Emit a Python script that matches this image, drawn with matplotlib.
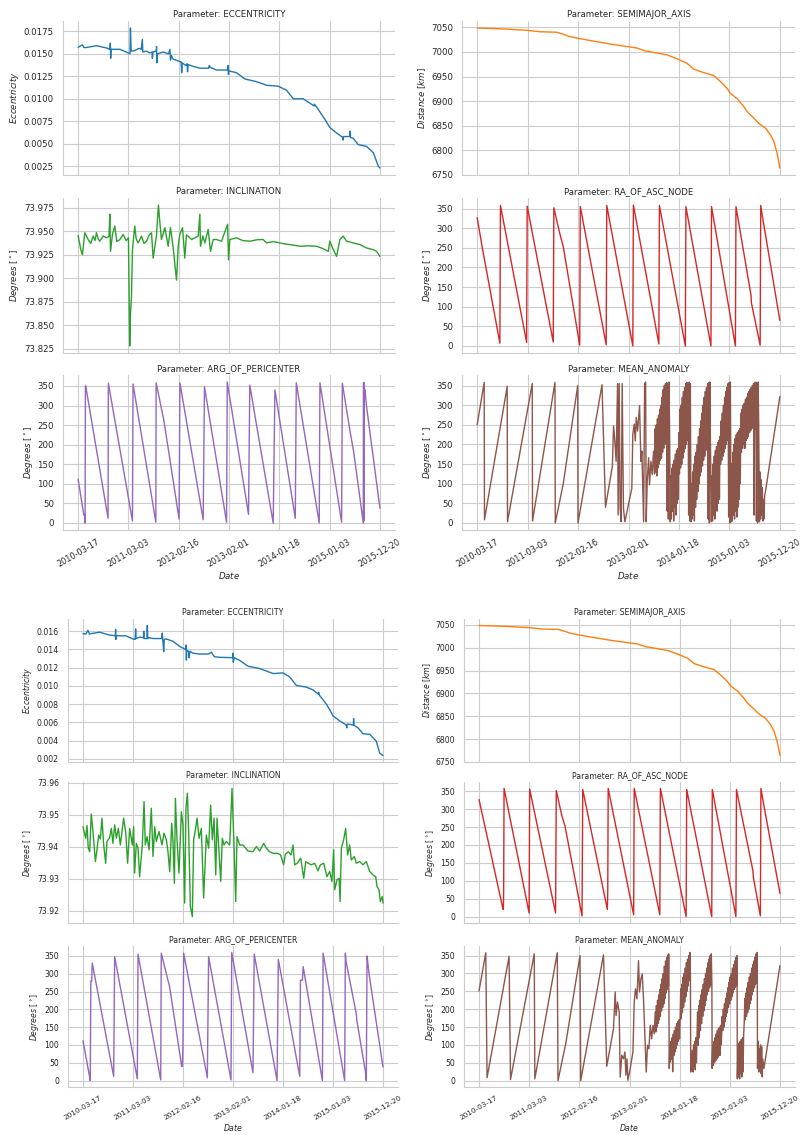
import numpy as np
import pandas as pd
import matplotlib
matplotlib.use("Agg")
import matplotlib.pyplot as plt
from matplotlib.ticker import MultipleLocator
import seaborn as sns

# epoch of the TLE series, all x data is days after this
start = pd.Timestamp("2010-03-17")
tick_labels = ["2010-03-17", "2011-03-03", "2012-02-16", "2013-02-01",
               "2014-01-18", "2015-01-03", "2015-12-20"]

# ---- eccentricity (raw / filtered)
ecc_raw_days = [0, 30, 40, 58, 128, 198, 221, 225, 227, 230, 291, 349, 362, 365, 370, 384, 425, 440, 448, 451,
                477, 500, 516, 518, 522, 545, 547, 549, 553, 593, 630, 640, 644, 650, 663, 700, 718, 720, 722, 726,
                750, 760, 763, 767, 802, 849, 910, 915, 920, 965, 1044, 1046, 1048, 1052, 1104, 1163, 1244, 1314,
                1395, 1453, 1500, 1569, 1645, 1647, 1662, 1721, 1755, 1802, 1845, 1848, 1850, 1893, 1896, 1899,
                1918, 1953, 2011, 2058, 2093, 2104]
ecc_raw = [0.01572, 0.0160, 0.0157, 0.0157, 0.0159, 0.01565, 0.0155, 0.0162, 0.0145, 0.0155, 0.0155, 0.0151,
           0.0150, 0.01787, 0.0153, 0.0153, 0.0156, 0.0155, 0.0166, 0.0152, 0.0153, 0.0151, 0.0152, 0.0145,
           0.0152, 0.0153, 0.0158, 0.0140, 0.0150, 0.0152, 0.0150, 0.0155, 0.0143, 0.0148, 0.0144, 0.0142,
           0.0141, 0.0137, 0.0129, 0.0140, 0.0137, 0.0139, 0.0130, 0.0138, 0.0136, 0.0134, 0.0134, 0.0137,
           0.0135, 0.0132, 0.0132, 0.0137, 0.0127, 0.0131, 0.0129, 0.0122, 0.0119, 0.0115, 0.0114, 0.01095,
           0.0100, 0.0100, 0.0092, 0.0094, 0.0091, 0.0077, 0.0068, 0.0062, 0.0057, 0.0054, 0.0058, 0.0058,
           0.0064, 0.0057, 0.0056, 0.0049, 0.0047, 0.0040, 0.0025, 0.0023]
ecc_filt_days = [0, 20, 35, 45, 117, 180, 226, 229, 231, 234, 300, 351, 366, 369, 372, 397, 424, 426, 428, 449,
                 451, 454, 463, 491, 538, 552, 556, 560, 566, 570, 585, 631, 678, 720, 723, 725, 728, 741, 744,
                 750, 772, 818, 880, 900, 912, 923, 959, 1050, 1052, 1054, 1060, 1099, 1157, 1239, 1333, 1403,
                 1450, 1496, 1566, 1613, 1650, 1652, 1660, 1707, 1754, 1800, 1847, 1850, 1852, 1870, 1896, 1898,
                 1900, 1929, 1964, 2011, 2057, 2081, 2104]
ecc_filt = [0.01574, 0.0157, 0.0161, 0.0157, 0.0159, 0.0156, 0.0155, 0.0162, 0.0151, 0.0155, 0.0155, 0.01515,
            0.0151, 0.01626, 0.0152, 0.01535, 0.0153, 0.0160, 0.0152, 0.0152, 0.01663, 0.0152, 0.0153, 0.0152,
            0.0152, 0.0152, 0.0158, 0.0150, 0.01377, 0.0151, 0.01515, 0.0149, 0.01433, 0.0140, 0.0145, 0.01284,
            0.0139, 0.0138, 0.0131, 0.0138, 0.01359, 0.0135, 0.0135, 0.0137, 0.0134, 0.0132, 0.01314, 0.0131,
            0.0136, 0.0126, 0.0131, 0.0128, 0.01217, 0.01191, 0.01136, 0.01143, 0.01099, 0.01006, 0.00987,
            0.00957, 0.0091, 0.0093, 0.00894, 0.00801, 0.00672, 0.00616, 0.00571, 0.0054, 0.0058, 0.0058,
            0.0057, 0.0064, 0.0057, 0.0054, 0.00475, 0.0047, 0.00393, 0.00263, 0.00237]

# ---- semimajor axis [km] (same in both sets)
sma_days = [0, 158, 344, 437, 553, 599, 634, 715, 808, 924, 1040, 1110, 1168, 1226, 1319, 1389, 1458, 1505,
            1574, 1644, 1690, 1737, 1760, 1807, 1853, 1876, 1911, 1957, 2004, 2039, 2062, 2085, 2104]
sma = [7048.6, 7047, 7044, 7041, 7040, 7036, 7032, 7027, 7022, 7016, 7011, 7008, 7002, 6999, 6994, 6986, 6977,
       6965, 6958, 6952, 6940, 6926, 6916, 6905, 6889, 6879, 6869, 6855, 6845, 6831, 6818, 6794, 6764]

# ---- inclination [deg]
inc_raw_days = [0, 19, 30, 47, 70, 88, 105, 118, 128, 140, 151, 175, 198, 216, 221, 226, 240, 256, 270, 291, 314,
                335, 351, 360, 365, 372, 379, 395, 405, 419, 442, 460, 477, 495, 512, 523, 546, 560, 570, 581,
                605, 628, 644, 663, 686, 698, 709, 728, 744, 755, 767, 791, 814, 837, 849, 853, 870, 884, 907,
                923, 942, 965, 1000, 1042, 1049, 1058, 1104, 1150, 1197, 1250, 1290, 1314, 1360, 1407, 1440,
                1476, 1510, 1546, 1600, 1662, 1700, 1744, 1755, 1779, 1802, 1825, 1848, 1872, 1918, 1965, 2011,
                2058, 2081, 2104]
inc_raw = [73.9455, 73.9304, 73.9250, 73.9484, 73.9412, 73.9370, 73.9448, 73.9400, 73.9484, 73.9420, 73.9394,
           73.9450, 73.9430, 73.9448, 73.9682, 73.9286, 73.9470, 73.9556, 73.9390, 73.9412, 73.9466, 73.9400,
           73.9430, 73.8279, 73.8620, 73.8800, 73.9300, 73.9556, 73.9420, 73.9376, 73.9448, 73.9370, 73.9394,
           73.9460, 73.9484, 73.9214, 73.9448, 73.9779, 73.9592, 73.9412, 73.9538, 73.9340, 73.9538, 73.9322,
           73.8980, 73.9340, 73.9466, 73.9538, 73.9214, 73.9460, 73.9448, 73.9412, 73.9430, 73.9448, 73.9682,
           73.9340, 73.9450, 73.9376, 73.9520, 73.9286, 73.9412, 73.9412, 73.9394, 73.9574, 73.9196, 73.9412,
           73.9430, 73.9400, 73.9394, 73.9410, 73.9412, 73.9376, 73.9390, 73.9376, 73.9365, 73.9358, 73.9350,
           73.9340, 73.9345, 73.9340, 73.9320, 73.9286, 73.9394, 73.9304, 73.9232, 73.9412, 73.9448, 73.9394,
           73.9376, 73.9358, 73.9322, 73.9304, 73.9286, 73.9232]
inc_filt_days = [0, 19, 28, 37, 47, 58, 70, 87, 98, 110, 122, 133, 145, 159, 168, 187, 199, 210, 222, 234, 248,
                 262, 285, 299, 313, 327, 346, 355, 362, 374, 386, 397, 416, 428, 437, 449, 463, 479, 491, 503,
                 514, 533, 554, 568, 585, 596, 608, 622, 631, 641, 648, 659, 673, 690, 701, 713, 722, 732, 741,
                 753, 767, 776, 790, 800, 814, 830, 846, 865, 881, 895, 907, 919, 931, 940, 954, 966, 977, 989,
                 1005, 1029, 1045, 1059, 1071, 1080, 1099, 1122, 1157, 1192, 1216, 1239, 1267, 1286, 1309, 1333,
                 1363, 1386, 1407, 1419, 1440, 1459, 1473, 1485, 1503, 1527, 1548, 1562, 1578, 1602, 1625, 1648,
                 1665, 1688, 1711, 1730, 1746, 1758, 1765, 1782, 1796, 1803, 1812, 1828, 1842, 1856, 1870, 1882,
                 1903, 1917, 1941, 1964, 1987, 2011, 2034, 2053, 2062, 2076, 2085, 2099, 2104]
inc_filt = [73.9462, 73.9426, 73.9466, 73.9395, 73.9384, 73.9502, 73.9447, 73.9353, 73.9390, 73.9436, 73.9424,
            73.9489, 73.9405, 73.9348, 73.9416, 73.9428, 73.9457, 73.9410, 73.9468, 73.9426, 73.9457, 73.9405,
            73.9489, 73.9447, 73.9348, 73.9457, 73.9405, 73.9462, 73.9317, 73.9410, 73.9395, 73.9306, 73.9405,
            73.9541, 73.9405, 73.9431, 73.9390, 73.9520, 73.9369, 73.9462, 73.9416, 73.9447, 73.9405, 73.9442,
            73.9421, 73.9384, 73.9322, 73.9473, 73.9416, 73.9285, 73.9551, 73.9426, 73.9317, 73.9509, 73.9468,
            73.9223, 73.9520, 73.9567, 73.9447, 73.9212, 73.9181, 73.9421, 73.9457, 73.9489, 73.9426, 73.9457,
            73.9239, 73.9436, 73.9395, 73.9530, 73.9421, 73.9489, 73.9311, 73.9489, 73.9384, 73.9291, 73.9426,
            73.9405, 73.9416, 73.9405, 73.9582, 73.9405, 73.9228, 73.9431, 73.9405, 73.9405, 73.9386, 73.9384,
            73.9400, 73.9386, 73.9410, 73.9395, 73.9384, 73.9379, 73.9379, 73.9374, 73.9343, 73.9376, 73.9384,
            73.9374, 73.9405, 73.9343, 73.9348, 73.9364, 73.9301, 73.9353, 73.9348, 73.9343, 73.9348, 73.9324,
            73.9343, 73.9348, 73.9306, 73.9322, 73.9291, 73.9390, 73.9265, 73.9296, 73.9301, 73.9228, 73.9395,
            73.9421, 73.9457, 73.9374, 73.9405, 73.9358, 73.9369, 73.9348, 73.9353, 73.9343, 73.9353, 73.9322,
            73.9311, 73.9306, 73.9275, 73.9265, 73.9228, 73.9244, 73.9223]

# ---- right ascension of ascending node [deg]
raan_raw_days = [0, 37, 158, 162, 344, 348, 529, 533, 574, 599, 713, 717, 897, 901, 1082, 1086, 1263, 1267,
                 1447, 1451, 1625, 1629, 1795, 1799, 1904, 1906, 1967, 1971, 1985, 2104]
raan_raw = [327, 248, 7, 358, 9, 356, 10, 352, 287, 252, 2, 355, 3, 358, 0, 359, 5, 358, 0, 355, 0, 355, 0, 355,
            128, 110, 2, 358, 325, 65]
raan_filt_days = [0, 168, 170, 172, 175, 350, 354, 535, 540, 580, 600, 720, 725, 897, 900, 903, 1081, 1085, 1264,
                  1268, 1448, 1452, 1627, 1631, 1796, 1800, 1915, 1918, 1967, 1971, 1985, 2104]
raan_filt = [327, 20, 20, 67, 358, 10, 356, 10, 352, 280, 255, 2, 355, 20, 68, 358, 5, 358, 5, 358, 0, 355, 0,
             355, 0, 355, 128, 110, 2, 358, 325, 65]

# ---- argument of pericenter [deg]
argp_raw_days = [0, 40, 47, 49, 51, 53, 209, 211, 379, 383, 542, 544, 598, 704, 710, 872, 881, 1035, 1040, 1188,
                 1197, 1360, 1372, 1514, 1521, 1681, 1686, 1837, 1842, 1902, 1905, 1918, 1920, 1988, 1990, 1992,
                 1994, 1998, 2000, 2010, 2104]
argp_raw = [112, 20, 20, 0, 350, 350, 12, 357, 5, 355, 2, 358, 262, 10, 358, 8, 348, 2, 360, 22, 352, 0, 340, 12,
            358, 0, 358, 2, 357, 220, 215, 188, 185, 0, 358, 5, 358, 330, 340, 300, 38]
argp_filt_days = [0, 42, 51, 55, 61, 65, 215, 222, 381, 386, 545, 549, 608, 692, 697, 701, 706, 872, 881, 1038,
                  1043, 1192, 1201, 1361, 1370, 1520, 1525, 1539, 1544, 1679, 1684, 1835, 1840, 1845, 1917, 1920,
                  1982, 1985, 1987, 1992, 1998, 2006, 2104]
argp_filt = [112, 20, 0, 280, 280, 330, 12, 348, 5, 355, 2, 358, 262, 40, 40, 98, 358, 8, 348, 2, 360, 22, 355, 0,
             340, 12, 282, 282, 320, 0, 358, 0, 358, 334, 187, 170, 22, 5, 0, 350, 330, 300, 38]

# ---- mean anomaly [deg]
ma_raw_days = [0, 49, 51, 209, 211, 383, 385, 541, 543, 599, 699, 701, 868, 892, 940, 948, 957, 966, 976, 980,
               987, 994, 1001, 1008, 1017, 1027, 1075, 1082, 1092, 1099, 1106, 1115, 1129, 1138, 1145, 1157, 1164,
               1171, 1175, 1182, 1192, 1198, 1208, 1217, 1226,
               1233, 1237, 1241, 1245, 1249, 1253, 1257, 1261, 1265, 1269, 1273, 1277, 1281, 1285, 1289, 1293,
               1297, 1301, 1305, 1309, 1313, 1317, 1321, 1325, 1329, 1333, 1338, 1342,
               1346, 1350, 1354, 1358, 1362, 1366, 1370, 1374, 1378, 1382, 1386, 1390, 1394, 1398,
               1402, 1406, 1410, 1414, 1418, 1422, 1426, 1430, 1434, 1438, 1442, 1446, 1450, 1454, 1458, 1462,
               1466, 1470, 1474, 1478, 1482, 1486,
               1490, 1494, 1498, 1502, 1506, 1510, 1514, 1518, 1522, 1526, 1530, 1534, 1538, 1542,
               1546, 1550, 1554, 1558, 1562, 1566, 1570, 1574, 1578, 1582, 1586, 1590, 1594, 1598, 1602, 1606,
               1610, 1614, 1618, 1621, 1628,
               1632, 1636, 1640, 1644, 1648, 1652, 1656, 1660, 1664, 1668, 1672, 1676, 1680, 1684, 1688,
               1692, 1696, 1700, 1704, 1708, 1712, 1716, 1720, 1724, 1728, 1732, 1736, 1740, 1744, 1748, 1752,
               1756, 1760, 1765,
               1769, 1773, 1777, 1781, 1785, 1789, 1793, 1797, 1801, 1805, 1809, 1813, 1817, 1821, 1825, 1829,
               1833, 1837, 1841, 1845, 1849, 1853, 1857, 1861, 1865, 1869, 1873, 1877, 1881, 1885, 1889, 1893,
               1897, 1901, 1905, 1909, 1913, 1917, 1921, 1925, 1929, 1933, 1937, 1941, 1945, 1949, 1953, 1957,
               1962, 1966, 1970, 1974, 1978, 1982, 1986, 1990, 1994, 1998, 2004, 2104]
ma_raw = [250, 358, 8, 348, 3, 355, 5, 358, 0, 101, 350, 0, 352, 40, 145, 247, 209, 157, 355, 20,
          355, 37, 3, 355, 37, 3, 88, 226, 252, 209, 269, 234, 299, 157, 183, 3, 355,
          359, 3, 106, 166, 97, 157, 123, 183,
          125, 240, 130, 250, 120, 265, 140, 275, 150, 290, 160, 300, 165, 320, 180, 340,
          190, 350, 200, 355, 210, 358, 30, 355, 10, 359, 230, 3,
          120, 10, 140, 30, 150, 5, 160, 40, 175, 20, 185, 50, 190, 60,
          230, 125, 290, 140, 300, 150, 320, 165, 335, 180, 345, 190, 355, 200, 358, 210,
          355, 20, 359, 5, 355, 3,
          100, 10, 130, 20, 150, 5, 170, 40, 180, 60, 200, 80, 220, 100,
          240, 120, 260, 130, 280, 145, 300, 160, 320, 170, 335, 185, 345, 190, 355, 10,
          358, 0, 359, 220, 3,
          120, 5, 150, 20, 170, 10, 185, 40, 195, 30, 205, 50, 210, 60, 220,
          150, 260, 160, 280, 170, 300, 180, 320, 190, 335, 200, 345, 210, 355, 15, 358,
          0, 359, 3,
          150, 5, 180, 20, 200, 10, 215, 30, 225, 15, 230, 40, 235, 60, 240, 100,
          280, 180, 290, 190, 300, 200, 305, 190, 315, 210, 320, 215, 330, 220, 335, 230,
          340, 235, 345, 240, 350, 245, 355, 20, 358, 240, 359, 5, 355, 0, 359, 250,
          3, 130, 10, 110, 20, 90, 5, 60, 10, 70, 80, 322]
ma_filt_days = [0, 47, 56, 210, 220, 386, 390, 547, 552, 606, 706, 711, 870, 893, 940, 952, 958, 968, 980, 987,
                998, 1010, 1020, 1027, 1034, 1041, 1057, 1076, 1085, 1094, 1104, 1115, 1122, 1132, 1141, 1150,
                1169, 1178, 1188, 1197, 1207, 1216, 1225,
                1232, 1236, 1240, 1244, 1248, 1252, 1256, 1260, 1264, 1268, 1272, 1276, 1280, 1284, 1288, 1292,
                1296, 1300, 1304, 1308, 1312, 1316, 1320, 1324, 1326, 1330,
                1334, 1338, 1342, 1346, 1350, 1354, 1358, 1362, 1366, 1370, 1374, 1378, 1382, 1386, 1390, 1394,
                1398, 1402, 1406,
                1410, 1414, 1418, 1422, 1426, 1430, 1434, 1438, 1442, 1446, 1450, 1454, 1458, 1462, 1466, 1470,
                1474, 1478, 1480,
                1484, 1488, 1492, 1496, 1500, 1504, 1508, 1512, 1516, 1520, 1524,
                1528, 1532, 1536, 1540, 1544, 1548, 1552, 1556, 1560, 1564, 1568, 1572, 1576, 1580, 1584, 1588,
                1592, 1596, 1600, 1604, 1608, 1612, 1616, 1620, 1624, 1628, 1630,
                1634, 1638, 1642, 1646, 1650, 1654, 1658, 1662, 1666, 1670, 1674, 1678, 1682, 1686, 1690, 1694,
                1700, 1704, 1708, 1712, 1716, 1720, 1724, 1728, 1732, 1736, 1740, 1744, 1748, 1752, 1756, 1760,
                1764, 1768, 1772, 1776, 1780, 1784, 1788, 1792, 1796, 1800, 1804, 1806,
                1810, 1814, 1818, 1822, 1826, 1830, 1834, 1838, 1842, 1846, 1850,
                1854, 1858, 1862, 1866, 1870, 1874, 1878, 1882, 1886, 1890, 1894, 1898, 1902, 1906, 1910, 1914,
                1918, 1922, 1926, 1930, 1934, 1938, 1942, 1945,
                1947, 1952, 1956, 1960, 1964, 1968, 1972, 1976, 1980, 1984, 1992, 2104]
ma_filt = [251, 358, 8, 348, 3, 355, 5, 358, 0, 103, 350, 0, 352, 40, 145, 248, 182, 220, 192, 10,
           71, 61, 80, 15, 61, 1, 34, 80, 220, 257, 229, 336, 248, 285, 299, 229,
           24, 99, 89, 155, 117, 155, 131,
           192, 136, 210, 150, 225, 160, 240, 170, 255, 180, 270, 195, 285, 205, 300, 215,
           320, 230, 335, 245, 345, 255, 352, 266, 355, 34,
           99, 52, 110, 60, 120, 25, 130, 70, 140, 80, 150, 90, 160, 100, 165, 110,
           170, 117, 173,
           257, 173, 270, 190, 290, 205, 300, 220, 315, 235, 330, 250, 340, 265, 350, 280,
           359, 294, 24,
           71, 30, 85, 24, 100, 40, 110, 30, 120, 50, 127,
           192, 99, 210, 120, 225, 140, 240, 160, 255, 180, 270, 195, 285, 210, 300, 225,
           315, 240, 330, 250, 340, 260, 350, 266, 355, 270, 34,
           99, 43, 110, 50, 120, 55, 130, 60, 140, 65, 145, 70, 150, 71, 155, 100,
           180, 140, 200, 150, 215, 165, 230, 180, 245, 190, 260, 205, 275, 215, 290, 225,
           300, 235, 315, 245, 325, 255, 335, 260, 345, 266, 350, 5,
           99, 10, 105, 5, 110, 20, 115, 10, 120, 24, 127,
           160, 230, 170, 245, 180, 260, 190, 275, 200, 290, 215, 300, 225, 315, 240, 325,
           250, 335, 260, 345, 270, 355, 280, 359,
           34, 110, 24, 90, 30, 100, 20, 95, 10, 60, 34, 322]

titles = ["ECCENTRICITY", "SEMIMAJOR_AXIS", "INCLINATION", "RA_OF_ASC_NODE", "ARG_OF_PERICENTER", "MEAN_ANOMALY"]
ylabels = [r"$Eccentricity$", r"$Distance\ [km]$", r"$Degrees\ [^\circ]$", r"$Degrees\ [^\circ]$",
           r"$Degrees\ [^\circ]$", r"$Degrees\ [^\circ]$"]
colors = ["C0", "C1", "C2", "C3", "C4", "C5"]

raw_set = [(ecc_raw_days, ecc_raw), (sma_days, sma), (inc_raw_days, inc_raw),
           (raan_raw_days, raan_raw), (argp_raw_days, argp_raw), (ma_raw_days, ma_raw)]
filt_set = [(ecc_filt_days, ecc_filt), (sma_days, sma), (inc_filt_days, inc_filt),
            (raan_filt_days, raan_filt), (argp_filt_days, argp_filt), (ma_filt_days, ma_filt)]

sns.set_style("whitegrid")
plt.rcParams["font.family"] = ["DejaVu Sans"]
plt.rcParams["mathtext.fontset"] = "dejavusans"

W, H = 805, 1135
fig = plt.figure(figsize=(W / 100, H / 100), dpi=100)

# axes boxes in pixels: (left, top, right, bottom)
top_boxes = [(63, 21, 395, 175), (462, 21, 795, 175),
             (63, 198, 395, 353), (462, 198, 795, 353),
             (63, 375, 395, 530), (462, 375, 795, 530)]
bot_boxes = [(68, 619, 398, 762), (464, 619, 795, 762),
             (68, 782, 398, 923), (464, 782, 795, 923),
             (68, 946, 398, 1087), (464, 946, 795, 1087)]

tick_dates = pd.to_datetime(tick_labels)


def draw_grid(boxes, dataset, fs, xfs, small=False):
    for i, (box, (days, vals)) in enumerate(zip(boxes, dataset)):
        l, t, r, b = box
        ax = fig.add_axes([l / W, 1 - b / H, (r - l) / W, (b - t) / H])
        dates = start + pd.to_timedelta(np.array(days), unit="D")
        ax.plot(dates, vals, color=colors[i], lw=1.0)
        ax.set_title("Parameter: " + titles[i], fontsize=fs, pad=3, color=".15")
        ax.set_ylabel(ylabels[i], fontsize=fs, color=".15", labelpad=2)
        ax.set_xticks(tick_dates)
        ax.tick_params(axis="y", labelsize=fs, pad=3)
        ax.tick_params(axis="x", labelsize=xfs, pad=2)
        if small and i == 2:
            ax.yaxis.set_major_locator(MultipleLocator(0.01))
        if i >= 4:
            ax.set_xticklabels(tick_labels, rotation=30, ha="center")
            ax.set_xlabel(r"$Date$", fontsize=fs, color=".15", labelpad=1)
        else:
            ax.set_xticklabels([])
        sns.despine(ax=ax)


draw_grid(top_boxes, raw_set, 6.2, 5.9)
draw_grid(bot_boxes, filt_set, 5.6, 5.2, small=True)

fig.savefig("out.png", dpi=100)
